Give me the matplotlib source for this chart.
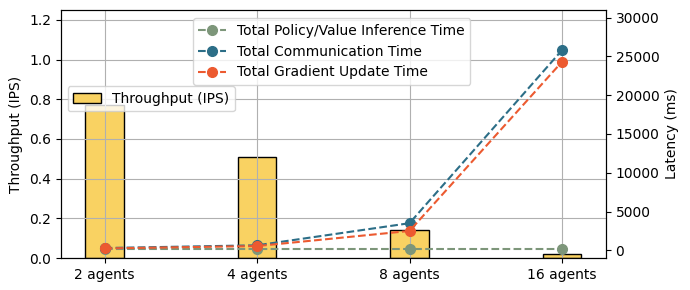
import numpy as np
import matplotlib
matplotlib.use("Agg")
from matplotlib import pyplot as plt

agents = ["2 agents", "4 agents", "8 agents", "16 agents"]
throughput = [0.77, 0.51, 0.14, 0.02]
inference_ms = [150, 150, 150, 150]
comm_ms = [300, 650, 3500, 25800]
grad_ms = [250, 550, 2500, 24300]

x = np.arange(len(agents))

fig, ax = plt.subplots(figsize=(6.9, 2.9), dpi=100)
fig.subplots_adjust(left=0.088, right=0.878, top=0.966, bottom=0.11)

# bars on the left axis, grid drawn over them (default axisbelow)
ax.bar(x, throughput, width=0.25, color="#f9d262", edgecolor="black",
       label="Throughput (IPS)")
ax.set_ylim(0, 1.25)
ax.set_ylabel("Throughput (IPS)")
ax.set_xticks(x)
ax.set_xticklabels(agents)
ax.grid(True, color="#b0b0b0")
ax.legend(loc="upper left", bbox_to_anchor=(0.0, 0.72))

# latency lines on the right axis
ax2 = ax.twinx()
ax2.plot(x, inference_ms, "--o", ms=7, color="#7d967a", label="Total Policy/Value Inference Time")
ax2.plot(x, comm_ms, "--o", ms=7, color="#2c6e87", label="Total Communication Time")
ax2.plot(x, grad_ms, "--o", ms=7, color="#ec5a30", label="Total Gradient Update Time")
ax2.set_ylim(-1000, 31000)
ax2.set_ylabel("Latency (ms)")
ax2.legend(loc="upper center", bbox_to_anchor=(0.497, 0.995))

fig.savefig("out.png")
